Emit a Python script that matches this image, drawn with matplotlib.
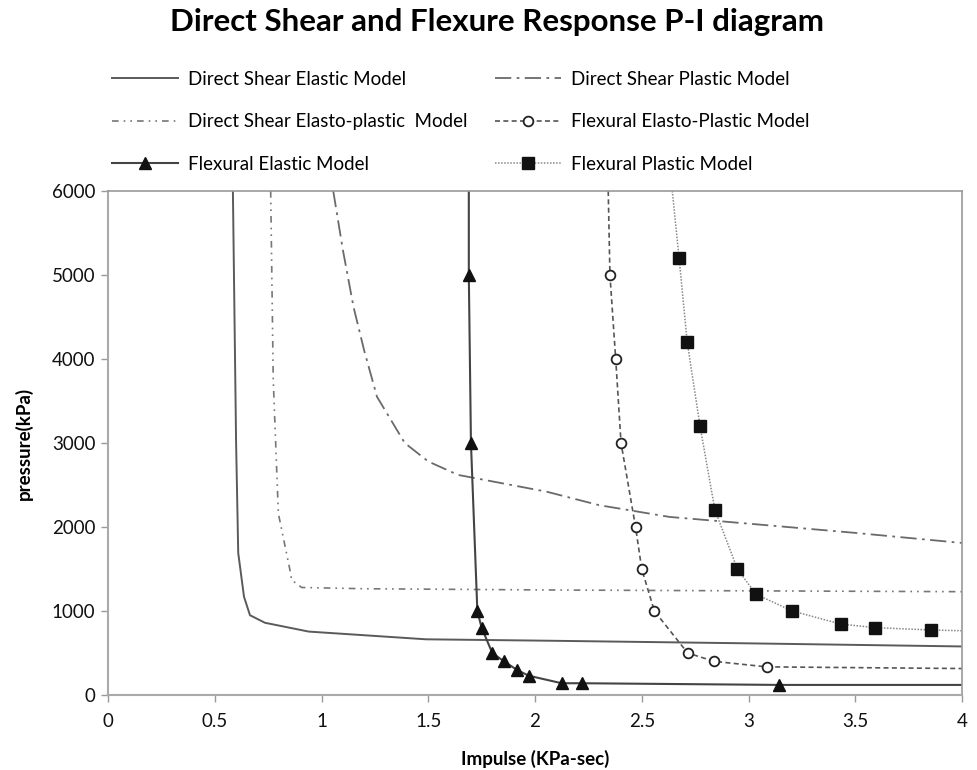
import matplotlib
matplotlib.use("Agg")
import matplotlib.pyplot as plt

# Direct Shear Elastic Model
dse_x = [0.585, 0.60, 0.61, 0.637, 0.665, 0.735, 0.94, 1.49, 2.07, 3.0, 4.0]
dse_p = [6000, 3000, 1690, 1170, 950, 860, 755, 663, 646, 615, 578]
# Direct Shear Plastic Model
dsp_x = [1.055, 1.10, 1.15, 1.20, 1.26, 1.39, 1.50, 1.64, 2.055, 2.30, 2.63, 3.0, 3.5, 4.0]
dsp_p = [6000, 5300, 4620, 4100, 3550, 3000, 2780, 2620, 2420, 2260, 2120, 2040, 1930, 1810]
# Direct Shear Elasto-plastic Model
dsep_x = [0.762, 0.774, 0.798, 0.852, 0.86, 0.907, 1.2, 2.07, 3.0, 4.0]
dsep_p = [6000, 3750, 2160, 1490, 1370, 1280, 1265, 1250, 1240, 1230]
# Flexural Elasto-Plastic Model
fep_x = [2.343, 2.351, 2.378, 2.403, 2.471, 2.50, 2.559, 2.715, 2.84, 3.085, 4.0]
fep_p = [6000, 5000, 4000, 3000, 2000, 1500, 1000, 500, 400, 335, 315]
fep_marks = [1, 2, 3, 4, 5, 6, 7, 8, 9]
# Flexural Elastic Model
fe_x = [1.69, 1.69, 1.70, 1.73, 1.75, 1.80, 1.855, 1.915, 1.97, 2.125, 2.22, 3.145, 4.0]
fe_p = [6000, 5000, 3000, 1000, 800, 500, 400, 300, 230, 140, 140, 120, 120]
fe_marks = [1, 2, 3, 4, 5, 6, 7, 8, 9, 10, 11]
# Flexural Plastic Model
fp_x = [2.643, 2.675, 2.713, 2.773, 2.843, 2.948, 3.035, 3.205, 3.431, 3.593, 3.855, 4.0]
fp_p = [6000, 5200, 4200, 3200, 2200, 1500, 1200, 1000, 845, 802, 774, 765]
fp_marks = [1, 2, 3, 4, 5, 6, 7, 8, 9, 10]

x_ticks = [0, 0.5, 1, 1.5, 2, 2.5, 3, 3.5, 4]
x_tick_labels = ["0", "0.5", "1", "1.5", "2", "2.5", "3", "3.5", "4"]
y_ticks = [0, 1000, 2000, 3000, 4000, 5000, 6000]

plt.rcParams['font.family'] = ['Lato', 'DejaVu Sans']

fig = plt.figure(figsize=(9.77, 7.7), dpi=100)
ax = fig.add_axes([108/977, 75/770, (962-108)/977, (695-191)/770])

h1, = ax.plot(dse_x, dse_p, color='#5a5a5a', lw=1.4, ls='-', label='Direct Shear Elastic Model')
h2, = ax.plot(dsp_x, dsp_p, color='#6a6a6a', lw=1.3, ls=(0, (9, 3, 1.5, 3)), label='Direct Shear Plastic Model')
h3, = ax.plot(dsep_x, dsep_p, color='#777777', lw=1.2, ls=(0, (4, 3, 1, 3, 1, 3)), label='Direct Shear Elasto-plastic  Model')
h4, = ax.plot(fep_x, fep_p, color='#555555', lw=1.2, ls=(0, (3, 2)), marker='o', markevery=fep_marks,
              markersize=7, markerfacecolor='white', markeredgecolor='#222222', markeredgewidth=1.3,
              label='Flexural Elasto-Plastic Model')
h5, = ax.plot(fe_x, fe_p, color='#444444', lw=1.5, ls='-', marker='^', markevery=fe_marks,
              markersize=8, markerfacecolor='#111111', markeredgecolor='#111111',
              label='Flexural Elastic Model')
h6, = ax.plot(fp_x, fp_p, color='#888888', lw=1.1, ls=(0, (1, 1)), marker='s', markevery=fp_marks,
              markersize=8, markerfacecolor='#111111', markeredgecolor='#111111',
              label='Flexural Plastic Model')

ax.set_xlim(0, 4)
ax.set_ylim(0, 6000)
ax.set_xticks(x_ticks)
ax.set_xticklabels(x_tick_labels)
ax.set_yticks(y_ticks)
ax.tick_params(axis='both', labelsize=13.5, colors='#999999', labelcolor='#111111', length=5, width=1)
ax.tick_params(axis='x', pad=8)
ax.tick_params(axis='y', pad=4)

for s in ['top', 'right']:
    ax.spines[s].set_linestyle((0, (1, 1)))
    ax.spines[s].set_color('#999999')
    ax.spines[s].set_linewidth(1.2)
for s in ['bottom', 'left']:
    ax.spines[s].set_color('#aaaaaa')
    ax.spines[s].set_linewidth(1.5)

ax.set_xlabel('Impulse (KPa-sec)', fontsize=13.5, fontweight='bold', labelpad=14)
ax.set_ylabel('pressure(kPa)', fontsize=13.5, fontweight='bold', labelpad=14)

fig.suptitle('Direct Shear and Flexure Response P-I diagram', fontsize=22.5, fontweight='bold',
             x=0.509, y=0.99, va='top')

common = dict(loc='upper left', frameon=False, fontsize=13.5, handlelength=3.5,
              labelspacing=1.35, handletextpad=0.55, borderpad=0, borderaxespad=0)
leg1 = fig.legend(handles=[h1, h3, h5], bbox_to_anchor=(112/977, 1 - 71/770), **common)
leg2 = fig.legend(handles=[h2, h4, h6], bbox_to_anchor=(495/977, 1 - 71/770), **common)

fig.savefig('out.png', dpi=100)
